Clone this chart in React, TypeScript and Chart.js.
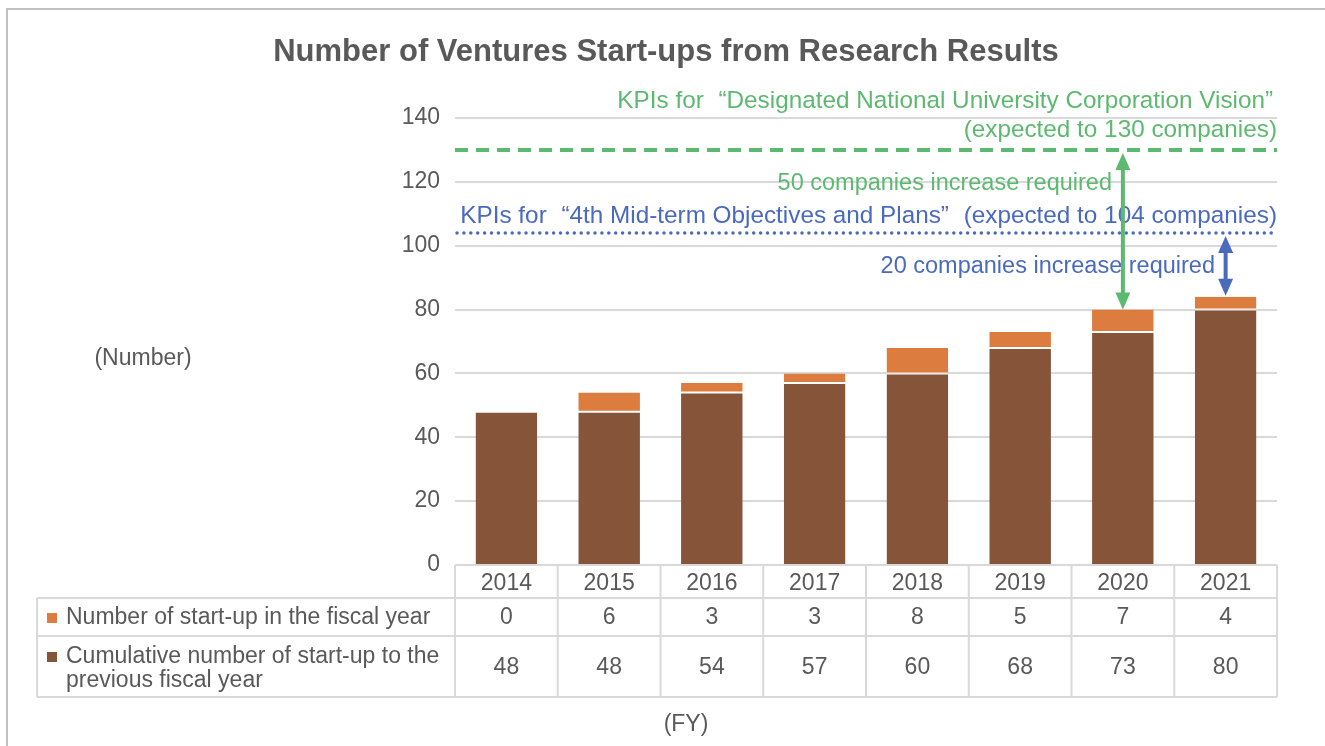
import React, { useEffect, useRef } from "react";
import { Chart, registerables } from "chart.js";

Chart.register(...registerables);

const years = ["2014", "2015", "2016", "2017", "2018", "2019", "2020", "2021"];
const newStartups = [0, 6, 3, 3, 8, 5, 7, 4];
const cumulativePrev = [48, 48, 54, 57, 60, 68, 73, 80];
const kpiVision = 130;
const kpiMidterm = 104;
const rowLabelNew = "Number of start-up in the fiscal year";
const rowLabelCum = ["Cumulative number of start-up to the", "previous fiscal year"];

const BROWN = "#855439";
const ORANGE = "#dd7c3f";
const GREEN = "#5cb96f";
const BLUE = "#4a6bbd";
const TEXT = "#595959";
const GRID = "#d9d9d9";
const FONT = "'Liberation Sans', Arial, sans-serif";

function arrowHead(ctx: CanvasRenderingContext2D, x: number, tipY: number, dir: number, w: number, l: number) {
  ctx.beginPath();
  ctx.moveTo(x, tipY);
  ctx.lineTo(x - w / 2, tipY - dir * l);
  ctx.lineTo(x + w / 2, tipY - dir * l);
  ctx.closePath();
  ctx.fill();
}

function doubleArrow(ctx: CanvasRenderingContext2D, x: number, yTop: number, yBot: number, color: string) {
  const w = 15, l = 17;
  ctx.save();
  ctx.strokeStyle = color;
  ctx.fillStyle = color;
  ctx.lineWidth = 4;
  ctx.beginPath();
  ctx.moveTo(x, yTop + l - 2);
  ctx.lineTo(x, yBot - l + 2);
  ctx.stroke();
  arrowHead(ctx, x, yTop, -1, w, l);
  arrowHead(ctx, x, yBot, 1, w, l);
  ctx.restore();
}

// draw text right-aligned at xRight; curly quotes get a wider (CJK-style) advance
function drawRich(ctx: CanvasRenderingContext2D, text: string, xRight: number, y: number, size: number) {
  const parts = text.split(/([\u201C\u201D])/).filter((p) => p.length > 0);
  ctx.font = `${size}px ${FONT}`;
  const quoteAdv = size * 0.66;
  let total = 0;
  const widths = parts.map((p) => {
    const isQ = p === "\u201C" || p === "\u201D";
    const w = isQ ? quoteAdv : ctx.measureText(p).width;
    total += w;
    return w;
  });
  let x = xRight - total;
  ctx.textAlign = "left";
  ctx.textBaseline = "middle";
  parts.forEach((p, i) => {
    if (p === "\u201C") {
      const g = ctx.measureText(p).width;
      ctx.fillText(p, x + widths[i] - g, y);
    } else {
      ctx.fillText(p, x, y);
    }
    x += widths[i];
  });
}

const overlayPlugin = {
  id: "overlay",
  afterDraw(chart: any) {
    const ctx: CanvasRenderingContext2D = chart.ctx;
    const xs = chart.scales.x;
    const ys = chart.scales.y;
    const area = chart.chartArea;
    const left = area.left, right = area.right, bottom = area.bottom;
    const colW = (right - left) / years.length;
    ctx.save();

    // frame
    ctx.strokeStyle = "#c0c0c0";
    ctx.lineWidth = 2;
    ctx.beginPath();
    ctx.moveTo(7, 760);
    ctx.lineTo(7, 9);
    ctx.lineTo(1330, 9);
    ctx.stroke();

    // title
    ctx.fillStyle = TEXT;
    ctx.font = `bold 31px ${FONT}`;
    ctx.textAlign = "center";
    ctx.textBaseline = "middle";
    ctx.fillText("Number of Ventures Start-ups from Research Results", 666, 52);

    // axis unit labels
    ctx.font = `23px ${FONT}`;
    ctx.fillText("(Number)", 143, 359);
    ctx.fillText("(FY)", 686, 725);

    // data table
    const tLeft = 37;
    const r1 = bottom + 33, r2 = bottom + 71, r3 = bottom + 132;
    ctx.strokeStyle = GRID;
    ctx.lineWidth = 2;
    ctx.beginPath();
    ctx.moveTo(left, bottom); ctx.lineTo(right, bottom);
    ctx.moveTo(tLeft, r1); ctx.lineTo(right, r1);
    ctx.moveTo(tLeft, r2); ctx.lineTo(right, r2);
    ctx.moveTo(tLeft, r3); ctx.lineTo(right, r3);
    ctx.moveTo(tLeft, r1); ctx.lineTo(tLeft, r3);
    for (let i = 0; i <= years.length; i++) {
      const x = left + i * colW;
      ctx.moveTo(x, bottom); ctx.lineTo(x, r3);
    }
    ctx.stroke();

    ctx.fillStyle = TEXT;
    ctx.font = `23px ${FONT}`;
    ctx.textAlign = "center";
    ctx.textBaseline = "middle";
    years.forEach((_, i) => {
      const x = xs.getPixelForValue(i);
      ctx.fillText(String(newStartups[i]), x, (r1 + r2) / 2 + 1);
      ctx.fillText(String(cumulativePrev[i]), x, (r2 + r3) / 2 + 1);
    });

    ctx.textAlign = "left";
    ctx.fillText(rowLabelNew, 66, (r1 + r2) / 2 + 1);
    ctx.fillText(rowLabelCum[0], 66, r2 + 21);
    ctx.fillText(rowLabelCum[1], 66, r2 + 45);
    ctx.fillStyle = ORANGE;
    ctx.fillRect(47, (r1 + r2) / 2 - 4, 10, 10);
    ctx.fillStyle = BROWN;
    ctx.fillRect(47, r2 + 16, 10, 10);

    // KPI lines
    const yV = ys.getPixelForValue(kpiVision);
    const yM = ys.getPixelForValue(kpiMidterm);
    ctx.strokeStyle = GREEN;
    ctx.lineWidth = 4;
    ctx.setLineDash([13, 8]);
    ctx.beginPath();
    ctx.moveTo(left, yV); ctx.lineTo(right, yV);
    ctx.stroke();
    ctx.strokeStyle = BLUE;
    ctx.lineWidth = 3.5;
    ctx.lineCap = "round";
    ctx.setLineDash([0, 6.9]);
    ctx.beginPath();
    ctx.moveTo(left + 2, yM); ctx.lineTo(right, yM);
    ctx.stroke();
    ctx.setLineDash([]);
    ctx.lineCap = "butt";

    // texts
    ctx.fillStyle = GREEN;
    drawRich(ctx, "KPIs for \u201CDesignated National University Corporation Vision\u201D", right + 4, 101, 24.3);
    drawRich(ctx, "(expected to 130 companies)", right, 130, 24.3);
    drawRich(ctx, "50 companies increase required", 1112, 184, 23.5);
    ctx.fillStyle = BLUE;
    drawRich(ctx, "KPIs for \u201C4th Mid-term Objectives and Plans\u201D (expected to 104 companies)", right, 216, 24.3);
    drawRich(ctx, "20 companies increase required", 1215, 267, 23.5);

    // arrows
    const x2020 = xs.getPixelForValue(6);
    const x2021 = xs.getPixelForValue(7);
    const top2020 = ys.getPixelForValue(cumulativePrev[6] + newStartups[6]);
    const top2021 = ys.getPixelForValue(cumulativePrev[7] + newStartups[7]);
    doubleArrow(ctx, x2020, yV + 3, top2020, GREEN);
    doubleArrow(ctx, x2021, yM + 3, top2021 - 1, BLUE);

    ctx.restore();
  },
};

export default function App() {
  const ref = useRef<HTMLCanvasElement>(null);
  useEffect(() => {
    if (!ref.current) return;
    Chart.defaults.font.family = FONT;
    const chart = new Chart(ref.current, {
      type: "bar",
      data: {
        labels: years,
        datasets: [
          {
            label: "Cumulative number of start-up to the previous fiscal year",
            data: cumulativePrev,
            backgroundColor: BROWN,
            borderColor: "#ffffff",
            borderWidth: { top: 1, left: 0, right: 0, bottom: 0 },
            borderSkipped: false,
            barPercentage: 1,
            categoryPercentage: 0.6,
          },
          {
            label: "Number of start-up in the fiscal year",
            data: newStartups,
            backgroundColor: ORANGE,
            borderColor: "#ffffff",
            borderWidth: { top: 0, left: 0, right: 0, bottom: 1 },
            borderSkipped: false,
            barPercentage: 1,
            categoryPercentage: 0.6,
          },
        ],
      },
      options: {
        responsive: false,
        animation: false,
        events: [],
        layout: { padding: { left: 0, right: 48, top: 118, bottom: 0 } },
        plugins: { legend: { display: false }, tooltip: { enabled: false }, title: { display: false } },
        scales: {
          x: {
            stacked: true,
            grid: { display: false, drawTicks: false },
            border: { display: false },
            ticks: { color: TEXT, font: { size: 23, family: FONT }, padding: 5 },
            afterFit: (s: any) => { s.height = 181; },
          },
          y: {
            stacked: true,
            min: 0,
            max: 140,
            grid: { color: GRID, lineWidth: 2, drawTicks: false },
            border: { display: false },
            ticks: { stepSize: 20, color: TEXT, font: { size: 23, family: FONT }, padding: 15 },
            afterFit: (s: any) => { s.width = 455; },
          },
        },
      },
      plugins: [overlayPlugin],
    });
    return () => chart.destroy();
  }, []);
  return (
    <div style={{ position: "absolute", left: 0, top: 0, width: 1325, height: 746, background: "#fff" }}>
      <canvas ref={ref} width={1325} height={746} style={{ display: "block" }} />
    </div>
  );
}
